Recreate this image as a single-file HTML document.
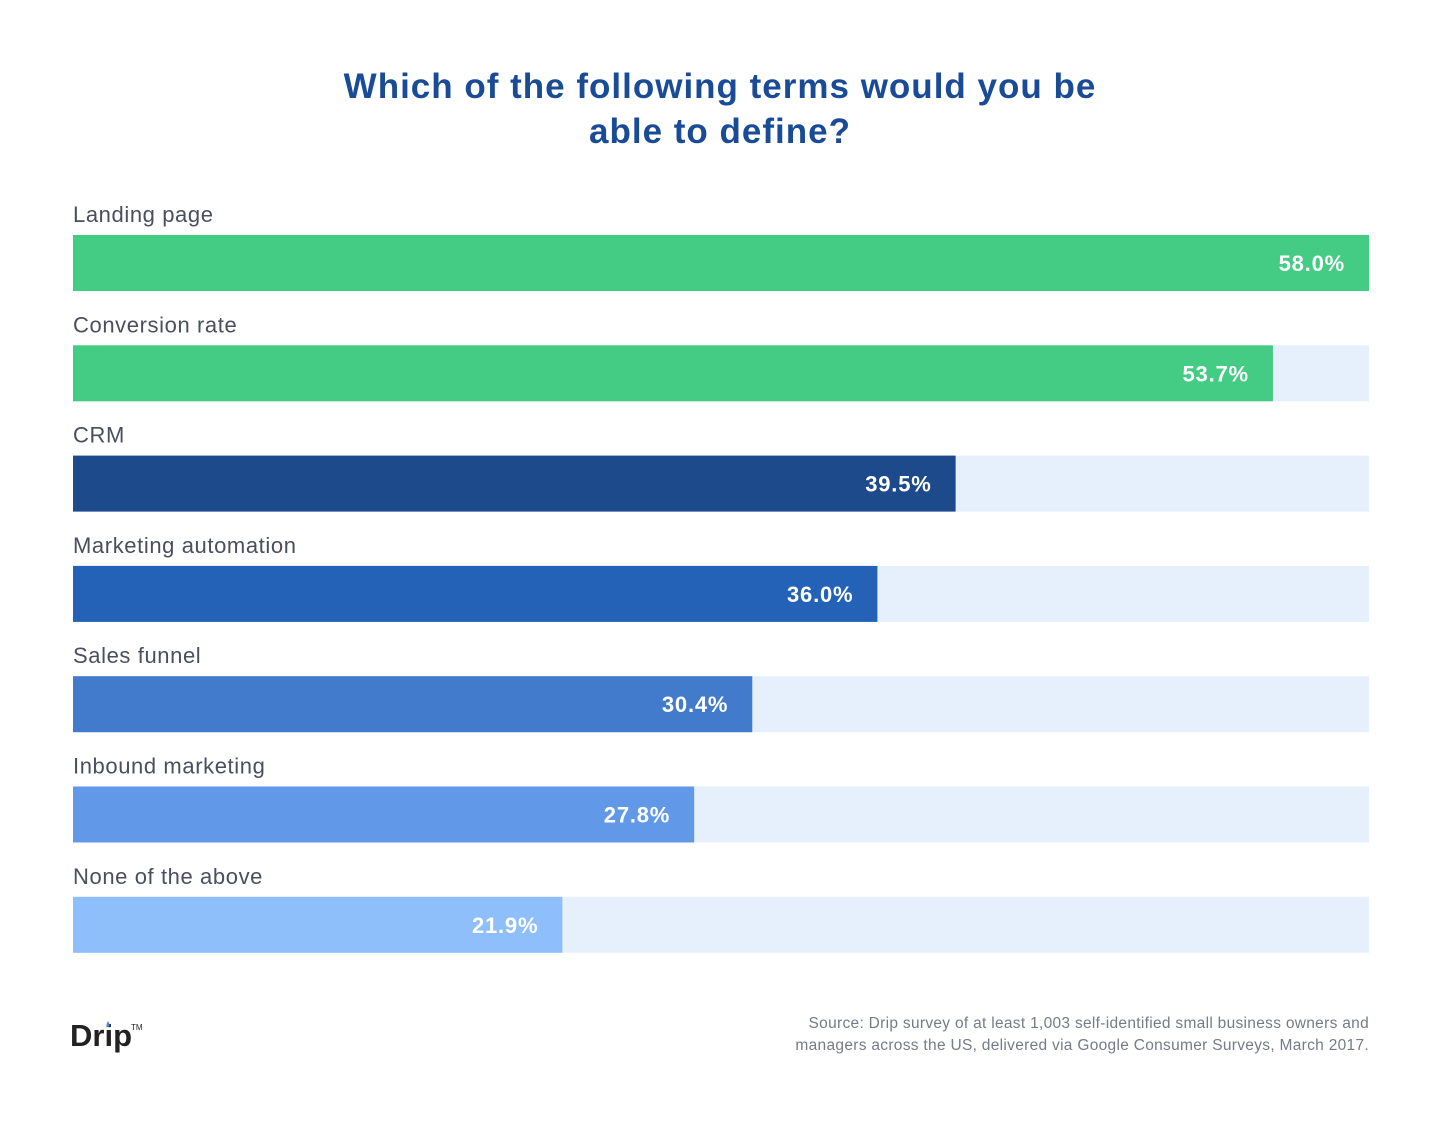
<!DOCTYPE html>
<html><head><meta charset="utf-8"><style>
body{margin:0;background:#fff;width:1441px;height:1123px;overflow:hidden;font-family:"Liberation Sans",sans-serif;}
</style></head><body>
<svg width="1441" height="1123" id="chart">
<text x="720" y="98" text-anchor="middle" font-size="35" font-weight="bold" letter-spacing="1" fill="#1a4b96">Which of the following terms would you be</text>
<text x="720" y="143" text-anchor="middle" font-size="35" font-weight="bold" letter-spacing="1" fill="#1a4b96">able to define?</text>
<g id="bars"></g>
<text x="70" y="1046" font-size="31" font-weight="bold" fill="#222">Drip</text>
<path d="M108 1021 q-3 5 0 6 q3 -1 0 -6z" fill="#4a8fe0"/>
<text x="131" y="1030" font-size="8" fill="#222">TM</text>
<text x="1369" y="1028" text-anchor="end" font-size="15.5" letter-spacing="0.3" fill="#777b88">Source: Drip survey of at least 1,003 self-identified small business owners and</text>
<text x="1369" y="1050" text-anchor="end" font-size="15.5" letter-spacing="0.3" fill="#777b88">managers across the US, delivered via Google Consumer Surveys, March 2017.</text>
</svg>
<script>
const categories=["Landing page","Conversion rate","CRM","Marketing automation","Sales funnel","Inbound marketing","None of the above"];
const values=[58.0,53.7,39.5,36.0,30.4,27.8,21.9];
const colors=["#44cc84","#44cc84","#1d4a8a","#2462b8","#427bcc","#6199e8","#8fbffa"];
const maxVal=58.0;
const x0=73,W=1296;
function xs(v){return v/maxVal*W;}
function ys(i){return 235+i*110.3;}
const g=document.getElementById('bars');
const NS="http://www.w3.org/2000/svg";
categories.forEach((c,i)=>{
 const y=ys(i);
 const t=document.createElementNS(NS,'rect');
 t.setAttribute('x',x0);t.setAttribute('y',y);t.setAttribute('width',W);t.setAttribute('height',56);t.setAttribute('fill','#e6f0fc');
 
 
 g.appendChild(t);
 const b=document.createElementNS(NS,'rect');
 b.setAttribute('x',x0);b.setAttribute('y',y);b.setAttribute('width',xs(values[i]));b.setAttribute('height',56);b.setAttribute('fill',colors[i]);
 
 
 g.appendChild(b);
 const l=document.createElementNS(NS,'text');
 l.setAttribute('x',x0);l.setAttribute('y',y-13);l.setAttribute('font-size','22');l.setAttribute('letter-spacing','0.6');l.setAttribute('fill','#4a4f5e');
 l.textContent=c;
 
 
 g.appendChild(l);
 const v=document.createElementNS(NS,'text');
 v.setAttribute('x',x0+xs(values[i])-24);v.setAttribute('y',y+36);v.setAttribute('text-anchor','end');
 v.setAttribute('font-size','22');v.setAttribute('letter-spacing','0.8');v.setAttribute('font-weight','bold');v.setAttribute('fill','#fff');
 v.textContent=values[i].toFixed(1)+'%';
 
 
 g.appendChild(v);
});
</script>
</body></html>
